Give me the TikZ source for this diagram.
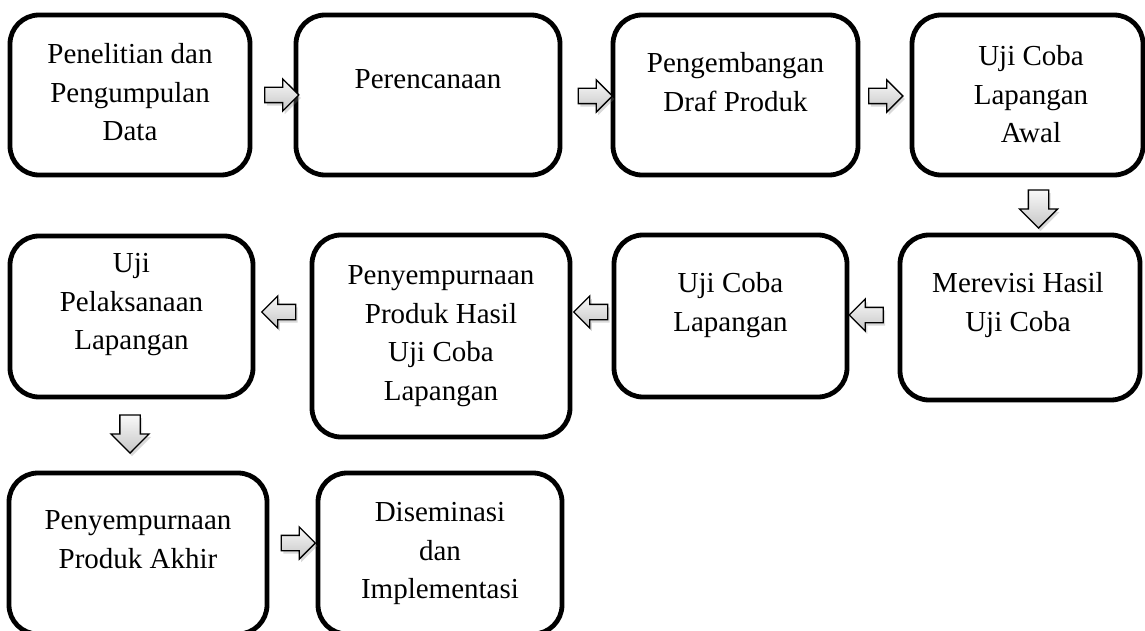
\documentclass[tikz,border=0pt]{standalone}
\usepackage{fontspec}
\setmainfont{Liberation Serif}
\usetikzlibrary{shapes.arrows,shadows,positioning}

\begin{document}
\begin{tikzpicture}[x=1pt,y=-1pt,
  box/.style={draw,line width=4.8pt,rounded corners=29pt,inner sep=0pt},
  txt/.style={anchor=north,align=center,inner sep=0pt,font=\fontsize{29}{38.5}\selectfont},
  blk/.style={single arrow,draw,line width=1.3pt,inner sep=7pt,single arrow head extend=8.5pt,
    minimum height=34pt,top color=gray!5,bottom color=gray!45,
    drop shadow={opacity=0.3,shadow xshift=2pt,shadow yshift=-3pt}},
  blkleft/.style={blk,shape border rotate=180},
  blkdown/.style={blk,shape border rotate=270,inner sep=9.5pt,single arrow head extend=9pt,minimum height=38pt}]
  \useasboundingbox (0,0) rectangle (1145,631);
  \foreach \n/\x/\y/\w/\h in {b1/130/95/240/160,b2/428/95/264/160,b3/735.5/95/245/160,b4/1027.5/95/231/160,
      b5/1020/317.5/240/165,b6/730.5/316/233/162,b7/441/336/258/202,b8/131.5/316.5/243/161,
      b9/138/553.5/258/161,b10/440/553.5/244/161}
    \node[box,minimum width=\w,minimum height=\h] (\n) at (\x,\y) {};
  \node[txt] (t1) at (130,43.5) {Penelitian dan\\Pengumpulan\\Data};
  \node[txt] (t2) at (428,69.5) {Perencanaan};
  \node[txt] (t3) at (735.5,52.5) {Pengembangan\\Draf Produk};
  \node[txt] (t4) at (1031,45.5) {Uji Coba\\Lapangan\\Awal};
  \node[txt] (t5) at (1018,272.5) {Merevisi Hasil\\Uji Coba};
  \node[txt] (t6) at (730.5,272.5) {Uji Coba\\Lapangan};
  \node[txt] (t7) at (441,265.5) {Penyempurnaan\\Produk Hasil\\Uji Coba\\Lapangan};
  \node[txt] (t8) at (131.5,253.5) {Uji\\Pelaksanaan\\Lapangan};
  \node[txt] (t9) at (138,510.5) {Penyempurnaan\\Produk Akhir};
  \node[txt] (t10) at (440,502.5) {Diseminasi\\dan\\Implementasi};
  \node[blk] (a12) at (278,95) {};
  \node[blk] (a23) at (591.5,96) {};
  \node[blk] (a34) at (882,96) {};
  \node[blkdown] (a45) at (1038.5,204) {};
  \node[blkleft] (a56) at (870,315) {};
  \node[blkleft] (a67) at (594.5,312) {};
  \node[blkleft] (a78) at (282.5,312) {};
  \node[blkdown] (a89) at (130,429) {};
  \node[blk] (a910) at (294.5,543) {};
\end{tikzpicture}
\end{document}
